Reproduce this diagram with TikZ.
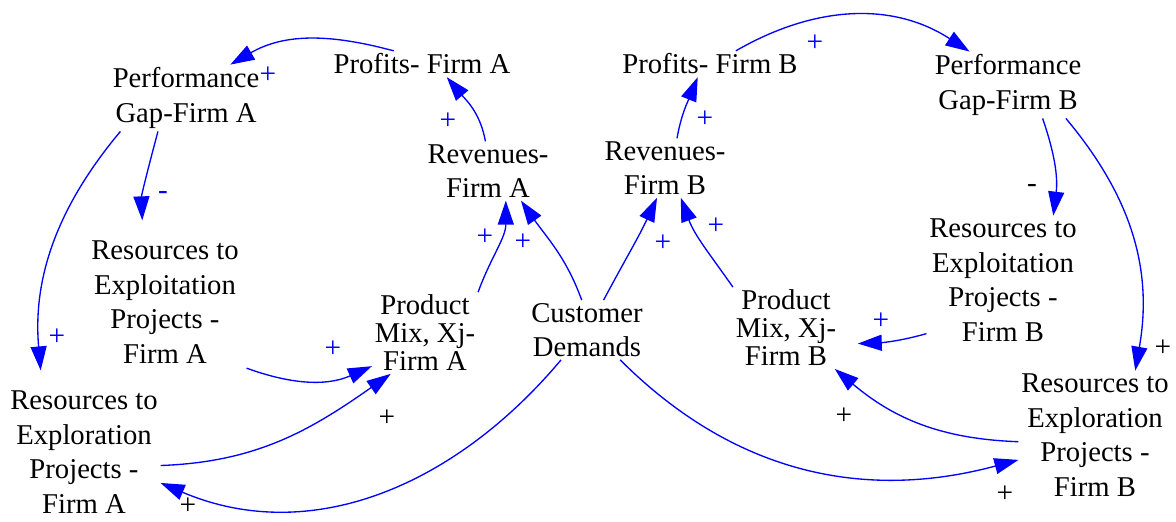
\documentclass[tikz,border=0pt]{standalone}
\usepackage{fontspec}
\setmainfont{Liberation Serif}
\usepackage{tikz}
\usetikzlibrary{arrows.meta}
\definecolor{linkc}{HTML}{0000FF}
\tikzset{
  ar/.style={-{Triangle[length=18pt,width=12pt]},line width=1pt,linkc},
  var/.style={align=center,inner sep=2pt,font=\fontsize{21.5}{26}\selectfont},
  pmx/.style={var,font=\fontsize{21.5}{21}\selectfont},
  pol/.style={inner sep=0pt,font=\fontsize{22}{22}\selectfont},
  polb/.style={pol,text=linkc}
}
\begin{document}
\begin{tikzpicture}[x=0.75pt,y=-0.75pt]
\useasboundingbox (0,0) rectangle (1176,521);
\node[var] (perfA) at (186,98) {Performance\\Gap-Firm A};
\node[var] (profA) at (422,64) {Profits- Firm A};
\node[var] (revA) at (488,171) {Revenues-\\Firm A};
\node[var] (explA) at (165,302) {Resources to\\Exploitation\\Projects -\\Firm A};
\node[var] (expA) at (84,452) {Resources to\\Exploration\\Projects -\\Firm A};
\node[pmx] (pmA) at (425,333) {Product\\Mix, Xj-\\Firm A};
\node[var] (cdem) at (587,330) {Customer\\Demands};
\node[var] (profB) at (710,64) {Profits- Firm B};
\node[var] (revB) at (665,168) {Revenues-\\Firm B};
\node[var] (perfB) at (1008,85) {Performance\\Gap-Firm B};
\node[var] (explB) at (1003,280) {Resources to\\Exploitation\\Projects -\\Firm B};
\node[pmx] (pmB) at (786,328) {Product\\Mix, Xj-\\Firm B};
\node[var] (expB) at (1095,435) {Resources to\\Exploration\\Projects -\\Firm B};
\draw[ar] (profA.155) to[out=165,in=30] (perfA.37);
\draw[ar] (revA.95) to[out=100,in=-50] (profA.-28);
\draw[ar,shorten >=13pt] (perfA.-130) to[out=-105,in=92] (explA.109);
\draw[ar,shorten >=13pt] (perfA.-153) to[out=-130,in=95] (expA.123);
\draw[ar,shorten <=4pt] (explA.south east) to[out=-20,in=204] (pmA.212);
\draw[ar] (expA.-10) to[out=2,in=215] (pmA.-130);
\draw[ar] (cdem.-131) to[out=-130,in=-23] (expA.-22);
\draw[ar] (pmA.north east) to[out=70,in=-90] (revA.-59);
\draw[ar] (cdem.100) to[out=110,in=-55] (revA.-42);
\draw[ar] (cdem.61) to[out=62,in=-115] (revB.-105);
\draw[ar] (pmB.north west) to[out=125,in=-70] (revB.-62);
\draw[ar] (revB.68) to[out=80,in=-112] (profB.-133);
\draw[ar] (profB.27) to[out=30,in=147] (perfB.139);
\draw[ar] (perfB.-44) to[out=-71,in=83] (explB.52);
\draw[ar] (perfB.-30) to[out=-50,in=80] (expB.58);
\draw[ar,shorten >=14pt] (explB.-145) to[out=-164,in=2] (pmB.-17);
\draw[ar] (expB.185) to[out=178,in=-40] (pmB.-40);
\draw[ar] (cdem.-42) to[out=-45,in=195] (expB.198);
\node[polb] (s1) at (268,75) {+};
\node[polb] (s2) at (448,121) {+};
\node[polb] (s3) at (163,195) {-};
\node[polb] (s4) at (57,337) {+};
\node[polb] (s5) at (333,349) {+};
\node[pol] (s6) at (387,418) {+};
\node[pol] (s7) at (188,506) {+};
\node[polb] (s8) at (485,237) {+};
\node[polb] (s9) at (523,242) {+};
\node[polb] (s10) at (663,243) {+};
\node[polb] (s11) at (716,226) {+};
\node[polb] (s12) at (705,119) {+};
\node[polb] (s13) at (815,43) {+};
\node[pol] (s14) at (1032,188) {-};
\node[pol] (s15) at (1163,348) {+};
\node[polb] (s16) at (881,321) {+};
\node[pol] (s17) at (844,416) {+};
\node[pol] (s18) at (1005,494) {+};
\end{tikzpicture}
\end{document}
